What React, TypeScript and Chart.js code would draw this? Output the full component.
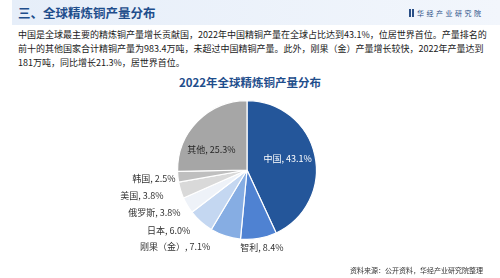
import React, { useEffect, useRef } from "react";
import { Chart, registerables } from "chart.js";

Chart.register(...registerables);

const categories = ["中国", "智利", "刚果（金）", "日本", "俄罗斯", "美国", "韩国", "其他"];
const shares = [43.1, 8.4, 7.1, 6.0, 3.8, 3.8, 2.5, 25.3];
const sliceColors = ["#24569a", "#4f82d2", "#86ade3", "#c4d7f1", "#eef2f8", "#d9d9d9", "#bfbfbf", "#a6a6a6"];

const headerTitle = "三、全球精炼铜产量分布";
const brandName = "华经产业研究院";
const paragraphLines = [
  "中国是全球最主要的精炼铜产量增长贡献国，2022年中国精铜产量在全球占比达到43.1%，位居世界首位。产量排名的",
  "前十的其他国家合计精铜产量为983.4万吨，未超过中国精铜产量。此外，刚果（金）产量增长较快，2022年产量达到",
  "181万吨，同比增长21.3%，居世界首位。",
];
const chartTitle = "2022年全球精炼铜产量分布";
const sourceNote = "资料来源：公开资料，华经产业研究院整理";

const FONT = '"Noto Sans CJK SC", "Noto Sans", sans-serif';

// label layout: inside labels for big slices, outside labels for the rest
const insideSet = [0, 7];
const labelNudge: Record<number, [number, number]> = {
  0: [0, -2],
  1: [1.5, -0.8],
  2: [-12, 1],
  3: [-3.8, 1.3],
  4: [1.9, 2.3],
  5: [-7.5, 2.7],
  6: [7.6, 1.2],
  7: [-6, 9],
};

const labelPlugin = {
  id: "sliceLabels",
  afterDatasetsDraw(chart: any) {
    const ctx = chart.ctx;
    const meta = chart.getDatasetMeta(0);
    ctx.save();
    ctx.font = `9px ${FONT}`;
    ctx.textBaseline = "middle";
    meta.data.forEach((arc: any, i: number) => {
      const p = arc.getProps(["x", "y", "startAngle", "endAngle", "outerRadius"], true);
      const mid = (p.startAngle + p.endAngle) / 2;
      const text = `${categories[i]}, ${shares[i].toFixed(1)}%`;
      const n = labelNudge[i] || [0, 0];
      if (insideSet.includes(i)) {
        const r = p.outerRadius * 0.6;
        ctx.fillStyle = i === 0 ? "#ffffff" : "#262626";
        ctx.textAlign = "center";
        ctx.fillText(text, p.x + Math.cos(mid) * r + n[0], p.y + Math.sin(mid) * r + n[1]);
      } else {
        const r = p.outerRadius + 10;
        const x = p.x + Math.cos(mid) * r;
        const y = p.y + Math.sin(mid) * r;
        ctx.fillStyle = "#333333";
        ctx.textAlign = Math.cos(mid) < -0.2 ? "right" : "center";
        ctx.fillText(text, x + n[0], y + n[1]);
      }
    });
    ctx.restore();
  },
};

export default function App() {
  const ref = useRef<HTMLCanvasElement | null>(null);

  useEffect(() => {
    if (!ref.current) return;
    const chart = new Chart(ref.current, {
      type: "pie",
      data: {
        labels: categories,
        datasets: [
          {
            data: shares,
            backgroundColor: sliceColors,
            borderColor: "#ffffff",
            borderWidth: 1.2,
          },
        ],
      },
      options: {
        responsive: false,
        animation: false,
        layout: { padding: { left: 177, right: 183, top: 100, bottom: 38 } },
        plugins: {
          legend: { display: false },
          tooltip: { enabled: false },
          title: { display: false },
        },
      },
      plugins: [labelPlugin],
    });
    return () => chart.destroy();
  }, []);

  return (
    <div
      style={{
        position: "fixed",
        left: 0,
        top: 0,
        width: 500,
        height: 278,
        background: "#ffffff",
        overflow: "hidden",
        fontFamily: FONT,
      }}
    >
      <div
        style={{
          position: "absolute",
          left: 12,
          top: 0,
          width: 488,
          height: 25,
          background: "linear-gradient(to right, #e6eef9, #f2f6fc)",
        }}
      />
      <div
        style={{
          position: "absolute",
          left: 18,
          top: 3,
          fontSize: 12.5,
          fontWeight: 700,
          color: "#1f4e8c",
          lineHeight: "20px",
          whiteSpace: "nowrap",
        }}
      >
        {headerTitle}
      </div>
      <div
        style={{
          position: "absolute",
          left: 409,
          top: 9,
          width: 5,
          height: 8,
          borderLeft: "2px solid #2a4f86",
          borderRight: "2px solid #2a4f86",
          boxSizing: "border-box",
        }}
      />
      <div
        style={{
          position: "absolute",
          left: 417,
          top: 7,
          fontSize: 7,
          letterSpacing: 2.5,
          color: "#2a4f86",
          lineHeight: "12px",
          whiteSpace: "nowrap",
        }}
      >
        {brandName}
      </div>
      {paragraphLines.map((line, i) => (
        <div
          key={i}
          style={{
            position: "absolute",
            left: 18,
            top: 28 + i * 14,
            width: 465,
            fontSize: 9,
            lineHeight: "14px",
            color: "#1a1a1a",
            whiteSpace: "nowrap",
            textAlign: i < 2 ? "justify" : "left",
            textAlignLast: i < 2 ? "justify" : "left",
          }}
        >
          {line}
        </div>
      ))}
      <div
        style={{
          position: "absolute",
          left: 0,
          width: 500,
          top: 74,
          textAlign: "center",
          fontSize: 11.5,
          fontWeight: 700,
          color: "#1f4e8c",
          lineHeight: "16px",
        }}
      >
        {chartTitle}
      </div>
      <canvas
        ref={ref}
        width={500}
        height={278}
        style={{ position: "absolute", left: 0, top: 0, width: 500, height: 278 }}
      />
      <div
        style={{
          position: "absolute",
          right: 17,
          top: 264,
          fontSize: 7,
          color: "#333333",
          lineHeight: "12px",
          whiteSpace: "nowrap",
        }}
      >
        {sourceNote}
      </div>
    </div>
  );
}
